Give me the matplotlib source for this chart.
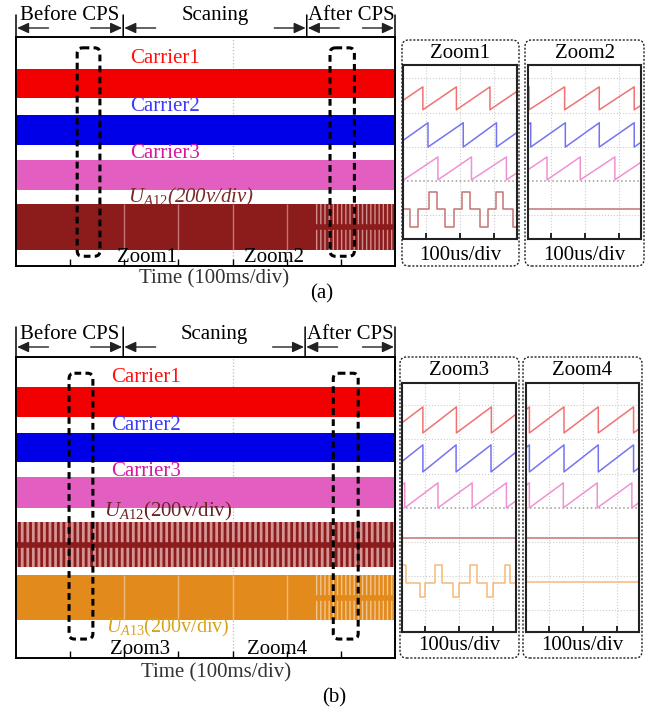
import numpy as np
import matplotlib
matplotlib.use('Agg')
import matplotlib.pyplot as plt
from matplotlib.patches import FancyBboxPatch

plt.rcParams['font.family'] = 'Liberation Serif'
plt.rcParams['mathtext.fontset'] = 'custom'
plt.rcParams['mathtext.rm'] = 'Liberation Serif'
plt.rcParams['mathtext.it'] = 'Liberation Serif:italic'
plt.rcParams['hatch.linewidth'] = 2.0

W, H = 659, 714
FS = 15

# ---------------- data ----------------
# long record, time in ms (100 ms/div)
tick_times = [100, 200, 300, 400, 500, 600]
phase_names = ['Before CPS', 'Scaning', 'After CPS']
phase_edges_a = [0, 198, 537, 700]
phase_edges_b = [0, 198, 534, 700]
cps_switch = 553          # ms, line voltages change look here

carrier_names = ['Carrier1', 'Carrier2', 'Carrier3']
# band top / bottom, divisions from top of screen
carrier_bands_a = [(0.59, 1.13), (1.44, 1.99), (2.27, 2.83)]
ua12_band_a = (3.08, 3.93)
carrier_bands_b = [(0.55, 1.11), (1.40, 1.94), (2.22, 2.79)]
ua12_band_b = (3.05, 3.88)
ua13_band_b = (4.03, 4.86)

zoom_windows_a = [(113, 155), (580, 625)]
zoom_windows_b = [(98, 142), (586, 632)]

# zoomed records, time in us (100 us/div)
zoom_time = [0, 333]
zoom_ticks = [67, 167, 267]
# falling edges of the three carriers (us)
falls_zoom1 = [[58, 156, 254], [73, 176, 273], [102, 200, 302]]
falls_zoom2 = [[3, 108, 210, 313], [8, 110, 210, 313], [56, 154, 256]]
falls_zoom3 = [[61, 159, 261], [61, 158, 260], [8, 105, 205, 305]]
falls_zoom4 = [[10, 112, 213, 317], [10, 112, 213, 317], [10, 110, 210, 312]]
# carrier (top, bottom) levels, div
carrier_levels_a = [(2.75, 2.08), (1.70, 0.99), (0.70, 0.03)]
carrier_levels_b = [(2.95, 2.19), (1.84, 1.05), (0.73, 0.0)]
# line voltages: base / high / low levels and pulse intervals
ua12_levels_a = (-0.82, -0.32, -1.35)
ua12_high_zoom1 = [(76, 98), (172, 197), (271, 291)]
ua12_low_zoom1 = [(20, 44), (124, 149), (224, 249), (322, 333)]
ua12_level_b = -0.88
ua13_levels_b = (-2.19, -1.67, -2.60)
ua13_high_zoom3 = [(0, 13), (96, 116), (198, 218), (300, 315)]
ua13_low_zoom3 = [(52, 68), (149, 166), (247, 266)]
ua13_level_zoom4 = -2.16

band_colors = ['#f20000', '#0000e8', '#e25fc1']
text_colors = ['#ff1010', '#3a3aff', '#d4189e']
zoom_colors = ['#f07272', '#7474f2', '#f092d2', '#c47474', '#f5b87a']
ua12_color = '#8c1c1c'
ua13_color = '#e38a1c'

fig = plt.figure(figsize=(W / 100, H / 100), dpi=100)


def px_axes(x0, y0, x1, y1):
    return fig.add_axes([x0 / W, 1 - y1 / H, (x1 - x0) / W, (y1 - y0) / H])


def sawtooth(falls, top, bottom):
    period = np.mean(np.diff(falls))
    t = [zoom_time[0]]
    v = [bottom + (top - bottom) * (zoom_time[0] - falls[0] + period) / period]
    for f in falls:
        t += [f, f]
        v += [top, bottom]
    t.append(zoom_time[1])
    v.append(bottom + (top - bottom) * (zoom_time[1] - falls[-1]) / period)
    return t, v


def steps(levels, highs, lows):
    base, high, low = levels
    parts = sorted([(a, b, high) for a, b in highs] + [(a, b, low) for a, b in lows])
    t, v = [zoom_time[0]], [base]
    for a, b, lev in parts:
        t += [a, a, b, b]
        v += [base, lev, lev, base]
    t.append(zoom_time[1])
    v.append(base)
    return t, v


def flat(level):
    return zoom_time, [level, level]


def header(ax, edges, y_text, y_arrow, y_bar0, y_bar1):
    kw = dict(xycoords=('data', 'figure pixels'), annotation_clip=False)
    for e in edges:
        ax.annotate('', xy=(e, H - y_bar0), xytext=(e, H - y_bar1),
                    arrowprops=dict(arrowstyle='-', lw=1.1, color='k',
                                    shrinkA=0, shrinkB=0), **kw)
    head = dict(arrowstyle='-|>,head_length=0.7,head_width=0.32', lw=1.0,
                color='#222222', shrinkA=0, shrinkB=0)
    for name, s, e in zip(phase_names, edges[:-1], edges[1:]):
        ax.annotate('', xy=(s + 2, H - y_arrow), xytext=(s + 60, H - y_arrow),
                    arrowprops=head, **kw)
        ax.annotate('', xy=(e - 2, H - y_arrow), xytext=(e - 60, H - y_arrow),
                    arrowprops=head, **kw)
        ax.annotate(name, xy=((s + e) / 2, H - y_text), ha='center',
                    va='baseline', fontsize=FS, **kw)


def scope(box, depth, edges, hdr, carrier_bands):
    ax = px_axes(*box)
    ax.set_xlim(0, 700)
    ax.set_ylim(depth, 0)
    ax.set_xticks(tick_times)
    ax.set_yticks([])
    ax.tick_params(axis='x', direction='in', length=5, width=1,
                   labelbottom=False)
    for sp in ax.spines.values():
        sp.set_linewidth(1.4)
    ax.axvline(400, ls=':', color='#bdbdbd', lw=0.9, zorder=0)
    for (top, bot), c in zip(carrier_bands, band_colors):
        ax.fill_between([0, 700], top, bot, color=c, lw=0)
    header(ax, edges, *hdr)
    return ax


def solid_then_striped(ax, band, dark, light, hatch):
    top, bot = band
    ax.fill_between([0, cps_switch], top, bot, color=dark, lw=0)
    ax.vlines(tick_times[1:5], top, bot, color=light, lw=1.0, alpha=0.8)
    ax.fill_between([cps_switch, 700], top, bot, facecolor=light,
                    edgecolor=dark, hatch=hatch, lw=0)
    ax.hlines((top + bot) / 2, cps_switch, 700, color=dark, lw=4)


def zoom_marks(ax, windows, names, y0, y1, y_text):
    for (t0, t1), name in zip(windows, names):
        ax.add_patch(FancyBboxPatch((t0, y0), t1 - t0, y1 - y0,
                                    boxstyle='round,pad=0,rounding_size=10',
                                    mutation_aspect=0.01, fc='none', ec='k',
                                    lw=2.2, ls=(0, (2.2, 1.4)), zorder=5))
    ax.text(windows[0][1] + 87, y_text, names[0], ha='center', va='baseline',
            fontsize=FS, zorder=6)
    ax.text(windows[1][0] - 103, y_text, names[1], ha='center', va='baseline',
            fontsize=FS, zorder=6)


def zoom_panel(inner, outer, title, ylim, grid_y, traces, y_title, y_foot):
    ax = px_axes(*inner)
    ax.set_xlim(zoom_time)
    ax.set_ylim(ylim)
    ax.set_xticks(zoom_ticks)
    ax.set_yticks(grid_y)
    ax.tick_params(axis='x', direction='in', length=4, width=1.2,
                   labelbottom=False)
    ax.tick_params(axis='y', length=0, labelleft=False)
    ax.grid(True, ls=':', color='#cccccc', lw=0.8)
    ax.axhline(0, ls=':', color='#9a9a9a', lw=1.1)
    for sp in ax.spines.values():
        sp.set_linewidth(1.5)
        sp.set_color('#222222')
    for (t, v), c in traces:
        ax.plot(t, v, color=c, lw=1.1)
    x0, y0, x1, y1 = outer
    fig.add_artist(FancyBboxPatch((x0 / W, 1 - y1 / H), (x1 - x0) / W,
                                  (y1 - y0) / H, transform=fig.transFigure,
                                  boxstyle='round,pad=0,rounding_size=0.01',
                                  mutation_aspect=W / H, fc='none', ec='#222222',
                                  lw=1.0, ls=(0, (1.5, 1.2))))
    cx = (inner[0] + inner[2]) / 2 / W
    fig.text(cx, 1 - y_title / H, title, ha='center', va='center', fontsize=FS)
    fig.text(cx, 1 - y_foot / H, '100us/div', ha='center', va='center',
             fontsize=FS)


# ---------------- (a) ----------------
ax_a = scope((16, 37, 395, 266), 4.23, phase_edges_a, (20, 28, 15, 37),
             carrier_bands_a)
solid_then_striped(ax_a, ua12_band_a, ua12_color, '#cf8e8e', '||||')
for name, y, c in zip(carrier_names, [0.39, 1.29, 2.16], text_colors):
    ax_a.text(275, y, name, color=c, ha='center', va='center', fontsize=FS)
ax_a.text(323, 2.97, r'$U_{A12}$(200v/div)', color='#7a2a2a', style='italic',
          ha='center', va='center', fontsize=FS)
zoom_marks(ax_a, zoom_windows_a, ['Zoom1', 'Zoom2'], 0.20, 4.05, 4.16)
ax_a.annotate('Time (100ms/div)', xy=(365, H - 283), ha='center',
              va='baseline', fontsize=FS, color='#333333',
              xycoords=('data', 'figure pixels'), annotation_clip=False)
fig.text(322 / W, 1 - 294 / H, '(a)', ha='center', va='center', fontsize=FS)

ylim_a = (-1.70, 3.39)
grid_a = [-1, 1, 2, 3]
traces_z1 = [(sawtooth(f, *lv), c) for f, lv, c in
             zip(falls_zoom1, carrier_levels_a, zoom_colors)]
traces_z1.append((steps(ua12_levels_a, ua12_high_zoom1, ua12_low_zoom1),
                  zoom_colors[3]))
traces_z2 = [(sawtooth(f, *lv), c) for f, lv, c in
             zip(falls_zoom2, carrier_levels_a, zoom_colors)]
traces_z2.append((flat(ua12_levels_a[0]), zoom_colors[3]))
zoom_panel((403, 65, 517, 239), (402, 40, 519, 266), 'Zoom1', ylim_a, grid_a,
           traces_z1, 53, 255)
zoom_panel((528, 65, 641, 239), (525, 40, 644, 266), 'Zoom2', ylim_a, grid_a,
           traces_z2, 53, 255)

# ---------------- (b) ----------------
ax_b = scope((16, 357, 395, 658), 5.56, phase_edges_b, (339, 347, 327, 357),
             carrier_bands_b)
top, bot = ua12_band_b
ax_b.fill_between([0, 700], top, bot, facecolor='#d49494', edgecolor=ua12_color,
                  hatch='|||', lw=0)
ax_b.hlines((top + bot) / 2, 0, 700, color=ua12_color, lw=4)
solid_then_striped(ax_b, ua13_band_b, ua13_color, '#f2c690', '||||')
for name, y, c in zip(carrier_names, [0.37, 1.26, 2.12], text_colors):
    ax_b.text(240, y, name, color=c, ha='center', va='center', fontsize=FS)
ax_b.text(281, 2.86, r'$U_{A12}$(200v/div)', color='#6b2222',
          ha='center', va='center', fontsize=FS)
ax_b.text(281, 4.99, r'$U_{A13}$(200v/div)', color='#d9a21b',
          ha='center', va='center', fontsize=14.5)
zoom_marks(ax_b, zoom_windows_b, ['Zoom3', 'Zoom4'], 0.30, 5.21, 5.49)
ax_b.annotate('Time (100ms/div)', xy=(370, H - 677), ha='center',
              va='baseline', fontsize=FS, color='#333333',
              xycoords=('data', 'figure pixels'), annotation_clip=False)
fig.text(334 / W, 1 - 698 / H, '(b)', ha='center', va='center', fontsize=FS)

ylim_b = (-3.63, 3.65)
grid_b = [-3, -2, -1, 1, 2, 3]
traces_z3 = [(sawtooth(f, *lv), c) for f, lv, c in
             zip(falls_zoom3, carrier_levels_b, zoom_colors)]
traces_z3.append((flat(ua12_level_b), zoom_colors[3]))
traces_z3.append((steps(ua13_levels_b, ua13_high_zoom3, ua13_low_zoom3),
                  zoom_colors[4]))
traces_z4 = [(sawtooth(f, *lv), c) for f, lv, c in
             zip(falls_zoom4, carrier_levels_b, zoom_colors)]
traces_z4.append((flat(ua12_level_b), zoom_colors[3]))
traces_z4.append((flat(ua13_level_zoom4), zoom_colors[4]))
zoom_panel((402, 383, 516, 632), (400, 357, 519, 658), 'Zoom3', ylim_b, grid_b,
           traces_z3, 370, 646)
zoom_panel((526, 383, 639, 632), (523, 357, 642, 658), 'Zoom4', ylim_b, grid_b,
           traces_z4, 370, 646)

fig.savefig('out.png', dpi=100)
